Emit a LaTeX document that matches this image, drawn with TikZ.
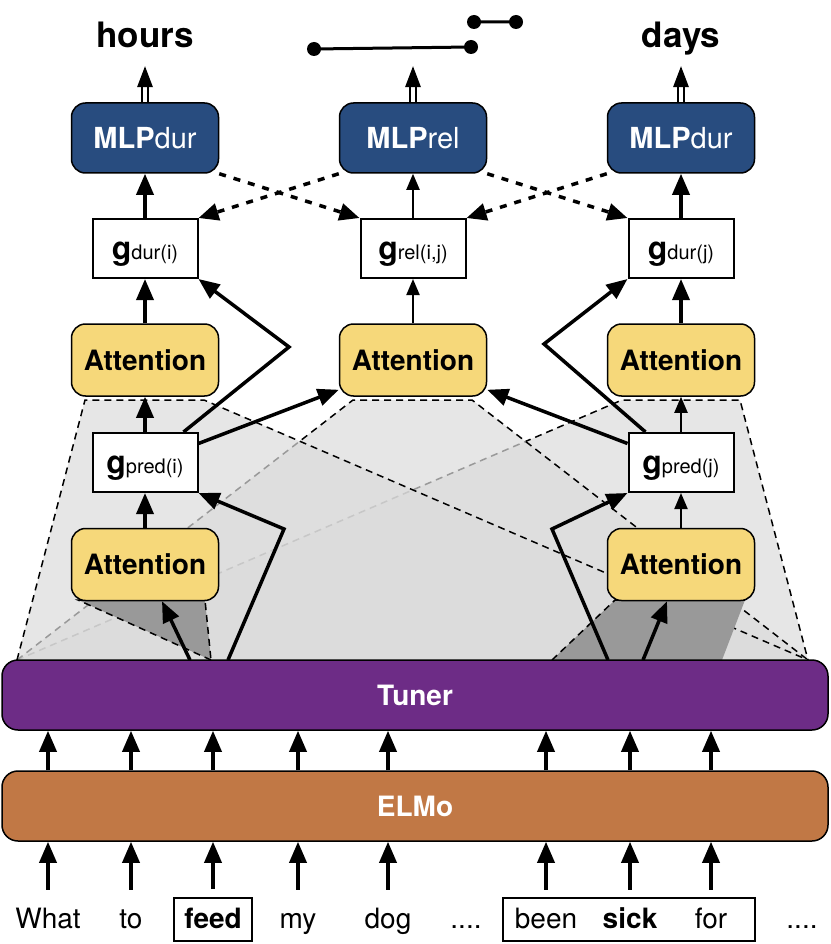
\documentclass[tikz,border=0pt]{standalone}
\usepackage{fontspec}
\setmainfont{TeX Gyre Heros}
\usetikzlibrary{arrows.meta}
\definecolor{mlpblue}{HTML}{284C7F}
\definecolor{attnyellow}{HTML}{F6D87A}
\definecolor{tunerpurple}{HTML}{6D2C86}
\definecolor{elmobrown}{HTML}{C17845}
\definecolor{fieldgray}{HTML}{DBDBDB}
\definecolor{focusgray}{HTML}{999999}
\newcommand{\fsz}[1]{\fontsize{#1}{#1}\selectfont}
\newcommand{\gvec}[1]{{\fsz{32}\bfseries g}{\fsz{20}#1}}

\begin{document}
\begin{tikzpicture}[x=1pt,y=-1pt,
  mlp/.style={draw,line width=1.5pt,fill=mlpblue,text=white,rounded corners=14pt,minimum width=147pt,minimum height=70pt,font=\fsz{29}},
  attn/.style={draw,line width=1.5pt,fill=attnyellow,rounded corners=14pt,minimum width=147pt,minimum height=72pt,font=\fsz{28}\bfseries},
  gbox/.style={draw,line width=2pt,fill=white,minimum width=105pt,minimum height=59pt,inner sep=0pt,text height=28pt,text depth=6pt},
  layer/.style={draw,line width=1.5pt,rounded corners=16pt,minimum width=826pt,minimum height=70pt,text=white,font=\fsz{28}\bfseries},
  word/.style={anchor=base,inner xsep=4pt,inner ysep=8pt,text height=22pt,text depth=5pt,font=\fsz{28}},
  arr/.style={line width=3.5pt,-{Triangle[length=21pt,width=17pt]}},
  thinarr/.style={line width=2pt,-{Triangle[length=16pt,width=13pt]}},
  linkarr/.style={line width=3.5pt,dash pattern=on 7pt off 8pt,-{Triangle[length=20pt,width=17pt]}},
  field/.style={draw,line width=1.5pt,dash pattern=on 7pt off 5pt,fill=fieldgray,fill opacity=.7},
  focus/.style={fill=focusgray,draw,line width=1.5pt,dash pattern=on 7pt off 5pt}]
\useasboundingbox (0,0) rectangle (830,944);
\path[field] (17,660) -- (622,400) -- (740,400) -- (808,660);
\path[field] (17,660) -- (353,400) -- (472,400) -- (808,660);
\path[field] (17,660) -- (85,400) -- (204,400) -- (808,660);
\path[focus] (211,660) -- (78,600) -- (205,600) -- cycle;
\fill[focusgray] (552,660) -- (615,600) -- (745,600) -- (722,660) -- cycle;
\draw[line width=1.5pt,dash pattern=on 7pt off 5pt] (552,660) -- (615,600) -- (745,600);

\node[anchor=base,font=\fsz{35}\bfseries] (hours) at (145,48) {hours};
\node[anchor=base,font=\fsz{35}\bfseries] (days) at (681,48) {days};
\coordinate (r1) at (314,49);
\coordinate (r2) at (471,47);
\coordinate (r3) at (474,22);
\coordinate (r4) at (516,22);
\draw[line width=3pt] (r1) -- (r2) (r3) -- (r4);
\foreach \r in {r1,r2,r3,r4} \fill (\r) circle (7pt);

\node[mlp] (mlpi) at (145,138) {\textbf{MLP}dur};
\node[mlp] (mlprel) at (413,138) {\textbf{MLP}rel};
\node[mlp] (mlpj) at (681,138) {\textbf{MLP}dur};
\node[gbox] (gduri) at (145,248.5) {\gvec{dur(i)}};
\node[gbox] (grel) at (413,248.5) {\gvec{rel(i,j)}};
\node[gbox] (gdurj) at (681,248.5) {\gvec{dur(j)}};
\node[attn] (attni) at (145,360) {Attention};
\node[attn] (attnm) at (413,360) {Attention};
\node[attn] (attnj) at (681,360) {Attention};
\node[gbox] (gpredi) at (145,462.5) {\gvec{pred(i)}};
\node[gbox] (gpredj) at (681,462.5) {\gvec{pred(j)}};
\node[attn] (attnbi) at (145,564.5) {Attention};
\node[attn] (attnbj) at (681,564.5) {Attention};
\node[layer,fill=tunerpurple] (tuner) at (415,695) {Tuner};
\node[layer,fill=elmobrown] (elmo) at (415,806) {ELMo};

\foreach \m in {mlpi,mlprel,mlpj} {
  \draw[line width=1.2pt,fill=white] ([xshift=-3pt]\m.north) rectangle ([xshift=3pt,yshift=16pt]\m.north);
  \fill ([xshift=-8pt,yshift=15pt]\m.north) -- ([xshift=8pt,yshift=15pt]\m.north) -- ([yshift=36pt]\m.north) -- cycle;
}

\draw[arr] (gduri) -- (mlpi);
\draw[thinarr] (grel) -- (mlprel);
\draw[arr] (gdurj) -- (mlpj);
\draw[arr] (attni) -- (gduri);
\draw[thinarr] (attnm) -- (grel);
\draw[arr] (attnj) -- (gdurj);
\draw[arr] (gpredi) -- (attni);
\draw[thinarr] (gpredj) -- (attnj);
\draw[arr] (attnbi) -- (gpredi);
\draw[thinarr] (attnbj) -- (gpredj);

\draw[linkarr] (mlpi.south east) -- (grel.north west);
\draw[linkarr] (mlprel.south west) -- (gduri.north east);
\draw[linkarr] (mlprel.south east) -- (gdurj.north west);
\draw[linkarr] (mlpj.south west) -- (grel.north east);

\coordinate (ki) at (289,347);
\coordinate (kbi) at (284,529);
\coordinate (ti1) at (228,660);
\coordinate (ti2) at (190,660);
\coordinate (kj) at (544,344);
\coordinate (kbj) at (552,529);
\coordinate (tj1) at (608,660);
\coordinate (tj2) at (643,660);
\draw[arr] ([xshift=-15pt]gpredi.north east) -- (ki) -- (gduri.south east);
\draw[arr] ([yshift=19pt]gpredi.east) -- ([yshift=7pt]attnm.south west);
\draw[arr] (ti1) -- (kbi) -- (gpredi.south east);
\draw[arr] (ti2) -- ([xshift=17pt]attnbi.south);
\draw[arr] ([xshift=18pt]gpredj.north west) -- (kj) -- (gdurj.south west);
\draw[arr] ([yshift=19pt]gpredj.west) -- ([yshift=7pt]attnm.south east);
\draw[arr] (tj1) -- (kbj) -- (gpredj.south west);
\draw[arr] (tj2) -- ([xshift=-14pt]attnbj.south);

\node[word] (w1) at (48,928) {What};
\node[word] (w2) at (131,928) {to};
\node[word,draw,line width=2pt,inner xsep=10pt] (w3) at (213,928) {\textbf{feed}};
\node[word] (w4) at (298,928) {my};
\node[word] (w5) at (388,928) {dog};
\node[word] (dots1) at (466,928) {....};
\node[word] (w6) at (546,928) {been};
\node[word] (w7) at (630,928) {\textbf{sick}};
\node[word] (w8) at (711,928) {for};
\node[word] (dots2) at (802,928) {....};
\node[draw,line width=2pt,minimum width=252pt,minimum height=43pt] (span) at (629,919.5) {};
\foreach \w in {w1,w2,w3,w4,w5,w6,w7,w8} {
  \draw[arr] ([yshift=8pt]\w.north) -- (\w.north |- elmo.south);
  \draw[arr] (\w.north |- elmo.north) -- (\w.north |- tuner.south);
}
\end{tikzpicture}
\end{document}
